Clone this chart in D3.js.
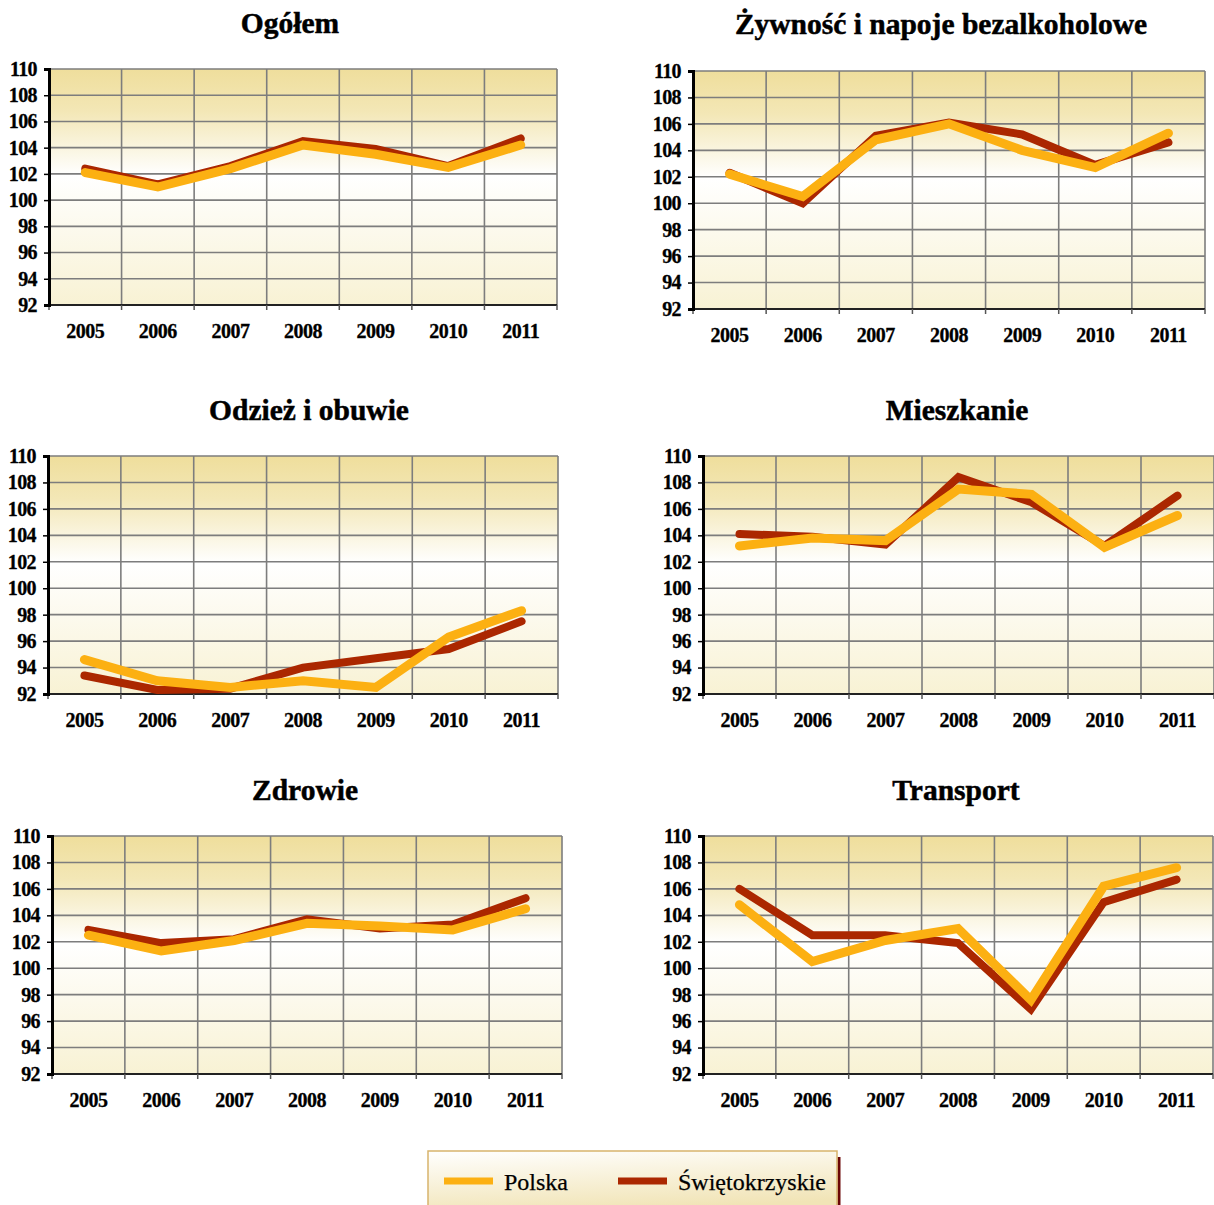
<!DOCTYPE html>
<html><head><meta charset="utf-8">
<script src="https://cdn.jsdelivr.net/npm/d3@7"></script>
<style>
body{margin:0;background:#fff;}
svg{display:block;}
text{font-family:"Liberation Serif","Times New Roman",serif;fill:#000;}
</style></head>
<body>
<script>
// ---- data ----
const years = ["2005","2006","2007","2008","2009","2010","2011"];
const yTicks = [92,94,96,98,100,102,104,106,108,110];
const titles = ["Ogółem","Żywność i napoje bezalkoholowe","Odzież i obuwie","Mieszkanie","Zdrowie","Transport"];
const seriesNames = ["Polska","Świętokrzyskie"];

const polskaOgolem   = [102.1,101.0,102.4,104.2,103.5,102.5,104.2];
const swietOgolem    = [102.4,101.2,102.6,104.5,103.9,102.6,104.7];
const polskaZywnosc  = [102.2,100.5,104.8,106.0,104.0,102.7,105.3];
const swietZywnosc   = [102.3,100.0,105.1,106.1,105.2,102.9,104.6];
const polskaOdziez   = [94.6,93.0,92.5,93.0,92.5,96.3,98.3];
const swietOdziez    = [93.4,92.3,92.4,94.0,94.7,95.4,97.5];
const polskaMieszk   = [103.2,103.8,103.6,107.5,107.1,103.1,105.5];
const swietMieszk    = [104.1,103.9,103.3,108.4,106.5,103.2,107.0];
const polskaZdrowie  = [102.5,101.3,102.1,103.4,103.2,102.9,104.5];
const swietZdrowie   = [102.9,101.9,102.2,103.7,103.0,103.3,105.3];
const polskaTransp   = [104.8,100.5,102.1,103.0,97.6,106.2,107.6];
const swietTransp    = [106.0,102.5,102.5,101.9,96.9,105.0,106.7];

const polskaAll = [polskaOgolem,polskaZywnosc,polskaOdziez,polskaMieszk,polskaZdrowie,polskaTransp];
const swietAll  = [swietOgolem,swietZywnosc,swietOdziez,swietMieszk,swietZdrowie,swietTransp];

// ---- layout ----
const boxes = [
  {x0:49,  x1:557,  y0:69,  y1:305,  tx:290, ty:33},
  {x0:693, x1:1205, y0:71,  y1:309,  tx:941, ty:34},
  {x0:48,  x1:558,  y0:456, y1:694,  tx:309, ty:420},
  {x0:703, x1:1214, y0:456, y1:694,  tx:957, ty:420},
  {x0:52,  x1:562,  y0:836, y1:1074, tx:305, ty:800},
  {x0:703, x1:1213, y0:836, y1:1074, tx:956, ty:800}
];
const colPolska = "#fcb012";
const colSwiet  = "#ab2700";

const svg = d3.select("body").append("svg").attr("width",1214).attr("height",1205);
const defs = svg.append("defs");
const g1 = defs.append("linearGradient").attr("id","bg").attr("x1",0).attr("y1",0).attr("x2",0).attr("y2",1);
g1.append("stop").attr("offset","0%").attr("stop-color","#efde9c");
g1.append("stop").attr("offset","18%").attr("stop-color","#f3e7b6");
g1.append("stop").attr("offset","45%").attr("stop-color","#ffffff");
g1.append("stop").attr("offset","100%").attr("stop-color","#f8f2d4");
const g2 = defs.append("linearGradient").attr("id","lg").attr("x1",0).attr("y1",0).attr("x2",0.3).attr("y2",1);
g2.append("stop").attr("offset","0%").attr("stop-color","#ffffff");
g2.append("stop").attr("offset","100%").attr("stop-color","#f1e4b6");

boxes.forEach((b,i)=>{
  const g = svg.append("g");
  const x = d3.scaleBand().domain(years).range([b.x0,b.x1]);
  const y = d3.scaleLinear().domain([92,110]).range([b.y1,b.y0]);
  g.append("rect").attr("x",b.x0).attr("y",b.y0).attr("width",b.x1-b.x0).attr("height",b.y1-b.y0).attr("fill","url(#bg)");
  // horizontal grid
  g.selectAll(".hg").data(yTicks.filter(t=>t>92)).enter().append("line")
    .attr("x1",b.x0).attr("x2",b.x1).attr("y1",d=>y(d)).attr("y2",d=>y(d))
    .attr("stroke","#7d7d7d").attr("stroke-width",1.6);
  // vertical grid
  const bounds = years.slice(1).map(d=>x(d)).concat([b.x1]);
  g.selectAll(".vg").data(bounds).enter().append("line")
    .attr("x1",d=>d).attr("x2",d=>d).attr("y1",b.y0).attr("y2",b.y1)
    .attr("stroke","#7d7d7d").attr("stroke-width",1.6);
  // bottom axis
  g.append("line").attr("x1",b.x0).attr("x2",b.x1).attr("y1",b.y1).attr("y2",b.y1).attr("stroke","#222").attr("stroke-width",2);
  g.selectAll(".bt").data([b.x0].concat(bounds)).enter().append("line")
    .attr("x1",d=>d).attr("x2",d=>d).attr("y1",b.y1).attr("y2",b.y1+5)
    .attr("stroke","#555").attr("stroke-width",1.5);
  g.selectAll(".xl").data(years).enter().append("text")
    .attr("x",d=>x(d)+x.bandwidth()/2).attr("y",b.y1+33)
    .attr("text-anchor","middle").attr("font-size",20).attr("font-weight","bold").attr("letter-spacing",-0.5)
    .attr("stroke","#000").attr("stroke-width",0.3)
    .text(d=>d);
  // left axis
  const ax = g.append("g").attr("transform",`translate(${b.x0},0)`)
    .call(d3.axisLeft(y).tickValues(yTicks).tickSize(5).tickPadding(7).tickFormat(d3.format("d")));
  ax.select(".domain").attr("stroke","#000").attr("stroke-width",3);
  ax.selectAll(".tick line").attr("stroke","#000").attr("stroke-width",1.5);
  ax.selectAll(".tick text").attr("font-size",20).attr("font-weight","bold").attr("letter-spacing",-0.6)
    .attr("fill","#000").attr("stroke","#000").attr("stroke-width",0.3);
  // lines
  const line = d3.line().x((d,j)=>x(years[j])+x.bandwidth()/2).y(d=>y(d));
  g.append("path").attr("d",line(swietAll[i])).attr("fill","none").attr("stroke",colSwiet)
    .attr("stroke-width",8).attr("stroke-linecap","round").attr("stroke-linejoin","miter");
  g.append("path").attr("d",line(polskaAll[i])).attr("fill","none").attr("stroke",colPolska)
    .attr("stroke-width",9).attr("stroke-linecap","round").attr("stroke-linejoin","miter");
  // title
  g.append("text").attr("x",b.tx).attr("y",b.ty).attr("text-anchor","middle")
    .attr("font-size",29.5).attr("font-weight","bold").attr("stroke","#000").attr("stroke-width",0.5)
    .text(titles[i]);
});

// legend
const lg = svg.append("g");
lg.append("line").attr("x1",839).attr("x2",839).attr("y1",1157).attr("y2",1205).attr("stroke","#6a0606").attr("stroke-width",3);
lg.append("rect").attr("x",428).attr("y",1151).attr("width",409).attr("height",62)
  .attr("fill","url(#lg)").attr("stroke","#d8b46c").attr("stroke-width",1.5);
const legItems = [{name:seriesNames[0],col:colPolska,x:444},{name:seriesNames[1],col:colSwiet,x:618}];
legItems.forEach(it=>{
  lg.append("line").attr("x1",it.x).attr("x2",it.x+49).attr("y1",1181).attr("y2",1181).attr("stroke",it.col).attr("stroke-width",7);
  lg.append("text").attr("x",it.x+60).attr("y",1190).attr("font-size",24).attr("stroke","#000").attr("stroke-width",0.25).text(it.name);
});
</script>
</body></html>
